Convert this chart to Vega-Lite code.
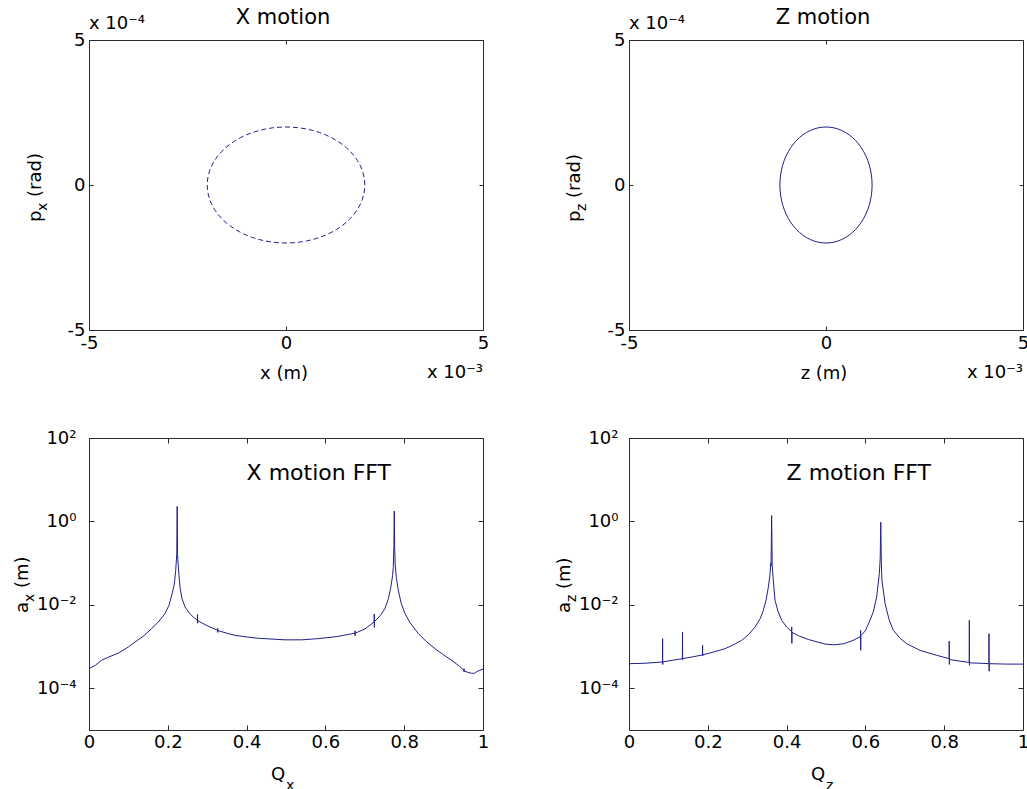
{
  "$schema": "https://vega.github.io/schema/vega-lite/v6.json",
  "autosize": {"type": "none"},
  "padding": {"left": 89, "top": 40, "right": 938, "bottom": 749},
  "background": "white",
  "datasets": {
    "xmotion": [
      {"i":0,"x":0.002,"p":0},{"i":1,"x":0.0019924,"p":0.0000174},{"i":2,"x":0.0019696,"p":0.0000347},{"i":3,"x":0.0019319,"p":0.0000518},
      {"i":4,"x":0.0018794,"p":0.0000684},{"i":5,"x":0.0018126,"p":0.0000845},{"i":6,"x":0.0017321,"p":0.0001},{"i":7,"x":0.0016383,"p":0.0001147},
      {"i":8,"x":0.0015321,"p":0.0001286},{"i":9,"x":0.0014142,"p":0.0001414},{"i":10,"x":0.0012856,"p":0.0001532},{"i":11,"x":0.0011472,"p":0.0001638},
      {"i":12,"x":0.001,"p":0.0001732},{"i":13,"x":0.0008452,"p":0.0001813},{"i":14,"x":0.000684,"p":0.0001879},{"i":15,"x":0.0005176,"p":0.0001932},
      {"i":16,"x":0.0003473,"p":0.000197},{"i":17,"x":0.0001743,"p":0.0001992},{"i":18,"x":0,"p":0.0002},
      {"i":19,"x":-0.0001743,"p":0.0001992},{"i":20,"x":-0.0003473,"p":0.000197},{"i":21,"x":-0.0005176,"p":0.0001932},{"i":22,"x":-0.000684,"p":0.0001879},
      {"i":23,"x":-0.0008452,"p":0.0001813},{"i":24,"x":-0.001,"p":0.0001732},{"i":25,"x":-0.0011472,"p":0.0001638},{"i":26,"x":-0.0012856,"p":0.0001532},
      {"i":27,"x":-0.0014142,"p":0.0001414},{"i":28,"x":-0.0015321,"p":0.0001286},{"i":29,"x":-0.0016383,"p":0.0001147},{"i":30,"x":-0.0017321,"p":0.0001},
      {"i":31,"x":-0.0018126,"p":0.0000845},{"i":32,"x":-0.0018794,"p":0.0000684},{"i":33,"x":-0.0019319,"p":0.0000518},{"i":34,"x":-0.0019696,"p":0.0000347},
      {"i":35,"x":-0.0019924,"p":0.0000174},{"i":36,"x":-0.002,"p":0},
      {"i":37,"x":-0.0019924,"p":-0.0000174},{"i":38,"x":-0.0019696,"p":-0.0000347},{"i":39,"x":-0.0019319,"p":-0.0000518},{"i":40,"x":-0.0018794,"p":-0.0000684},
      {"i":41,"x":-0.0018126,"p":-0.0000845},{"i":42,"x":-0.0017321,"p":-0.0001},{"i":43,"x":-0.0016383,"p":-0.0001147},{"i":44,"x":-0.0015321,"p":-0.0001286},
      {"i":45,"x":-0.0014142,"p":-0.0001414},{"i":46,"x":-0.0012856,"p":-0.0001532},{"i":47,"x":-0.0011472,"p":-0.0001638},{"i":48,"x":-0.001,"p":-0.0001732},
      {"i":49,"x":-0.0008452,"p":-0.0001813},{"i":50,"x":-0.000684,"p":-0.0001879},{"i":51,"x":-0.0005176,"p":-0.0001932},{"i":52,"x":-0.0003473,"p":-0.000197},
      {"i":53,"x":-0.0001743,"p":-0.0001992},{"i":54,"x":0,"p":-0.0002},
      {"i":55,"x":0.0001743,"p":-0.0001992},{"i":56,"x":0.0003473,"p":-0.000197},{"i":57,"x":0.0005176,"p":-0.0001932},{"i":58,"x":0.000684,"p":-0.0001879},
      {"i":59,"x":0.0008452,"p":-0.0001813},{"i":60,"x":0.001,"p":-0.0001732},{"i":61,"x":0.0011472,"p":-0.0001638},{"i":62,"x":0.0012856,"p":-0.0001532},
      {"i":63,"x":0.0014142,"p":-0.0001414},{"i":64,"x":0.0015321,"p":-0.0001286},{"i":65,"x":0.0016383,"p":-0.0001147},{"i":66,"x":0.0017321,"p":-0.0001},
      {"i":67,"x":0.0018126,"p":-0.0000845},{"i":68,"x":0.0018794,"p":-0.0000684},{"i":69,"x":0.0019319,"p":-0.0000518},{"i":70,"x":0.0019696,"p":-0.0000347},
      {"i":71,"x":0.0019924,"p":-0.0000174},{"i":72,"x":0.002,"p":0}
    ],
    "zmotion": [
      {"i":0,"z":0.00117,"p":0},{"i":1,"z":0.0011655,"p":0.0000174},{"i":2,"z":0.0011522,"p":0.0000347},{"i":3,"z":0.0011301,"p":0.0000518},
      {"i":4,"z":0.0010994,"p":0.0000684},{"i":5,"z":0.0010604,"p":0.0000845},{"i":6,"z":0.0010133,"p":0.0001},{"i":7,"z":0.0009584,"p":0.0001147},
      {"i":8,"z":0.0008963,"p":0.0001286},{"i":9,"z":0.0008273,"p":0.0001414},{"i":10,"z":0.0007521,"p":0.0001532},{"i":11,"z":0.0006711,"p":0.0001638},
      {"i":12,"z":0.000585,"p":0.0001732},{"i":13,"z":0.0004945,"p":0.0001813},{"i":14,"z":0.0004002,"p":0.0001879},{"i":15,"z":0.0003028,"p":0.0001932},
      {"i":16,"z":0.0002032,"p":0.000197},{"i":17,"z":0.000102,"p":0.0001992},{"i":18,"z":0,"p":0.0002},
      {"i":19,"z":-0.000102,"p":0.0001992},{"i":20,"z":-0.0002032,"p":0.000197},{"i":21,"z":-0.0003028,"p":0.0001932},{"i":22,"z":-0.0004002,"p":0.0001879},
      {"i":23,"z":-0.0004945,"p":0.0001813},{"i":24,"z":-0.000585,"p":0.0001732},{"i":25,"z":-0.0006711,"p":0.0001638},{"i":26,"z":-0.0007521,"p":0.0001532},
      {"i":27,"z":-0.0008273,"p":0.0001414},{"i":28,"z":-0.0008963,"p":0.0001286},{"i":29,"z":-0.0009584,"p":0.0001147},{"i":30,"z":-0.0010133,"p":0.0001},
      {"i":31,"z":-0.0010604,"p":0.0000845},{"i":32,"z":-0.0010994,"p":0.0000684},{"i":33,"z":-0.0011301,"p":0.0000518},{"i":34,"z":-0.0011522,"p":0.0000347},
      {"i":35,"z":-0.0011655,"p":0.0000174},{"i":36,"z":-0.00117,"p":0},
      {"i":37,"z":-0.0011655,"p":-0.0000174},{"i":38,"z":-0.0011522,"p":-0.0000347},{"i":39,"z":-0.0011301,"p":-0.0000518},{"i":40,"z":-0.0010994,"p":-0.0000684},
      {"i":41,"z":-0.0010604,"p":-0.0000845},{"i":42,"z":-0.0010133,"p":-0.0001},{"i":43,"z":-0.0009584,"p":-0.0001147},{"i":44,"z":-0.0008963,"p":-0.0001286},
      {"i":45,"z":-0.0008273,"p":-0.0001414},{"i":46,"z":-0.0007521,"p":-0.0001532},{"i":47,"z":-0.0006711,"p":-0.0001638},{"i":48,"z":-0.000585,"p":-0.0001732},
      {"i":49,"z":-0.0004945,"p":-0.0001813},{"i":50,"z":-0.0004002,"p":-0.0001879},{"i":51,"z":-0.0003028,"p":-0.0001932},{"i":52,"z":-0.0002032,"p":-0.000197},
      {"i":53,"z":-0.000102,"p":-0.0001992},{"i":54,"z":0,"p":-0.0002},
      {"i":55,"z":0.000102,"p":-0.0001992},{"i":56,"z":0.0002032,"p":-0.000197},{"i":57,"z":0.0003028,"p":-0.0001932},{"i":58,"z":0.0004002,"p":-0.0001879},
      {"i":59,"z":0.0004945,"p":-0.0001813},{"i":60,"z":0.000585,"p":-0.0001732},{"i":61,"z":0.0006711,"p":-0.0001638},{"i":62,"z":0.0007521,"p":-0.0001532},
      {"i":63,"z":0.0008273,"p":-0.0001414},{"i":64,"z":0.0008963,"p":-0.0001286},{"i":65,"z":0.0009584,"p":-0.0001147},{"i":66,"z":0.0010133,"p":-0.0001},
      {"i":67,"z":0.0010604,"p":-0.0000845},{"i":68,"z":0.0010994,"p":-0.0000684},{"i":69,"z":0.0011301,"p":-0.0000518},{"i":70,"z":0.0011522,"p":-0.0000347},
      {"i":71,"z":0.0011655,"p":-0.0000174},{"i":72,"z":0.00117,"p":0}
    ],
    "xfft": [
      {"Q":0,"a":2.95e-4},{"Q":0.016,"a":3.55e-4},{"Q":0.032,"a":4.68e-4},{"Q":0.05,"a":5.62e-4},{"Q":0.074,"a":6.92e-4},
      {"Q":0.1,"a":9.77e-4},{"Q":0.117,"a":1.29e-3},{"Q":0.138,"a":1.78e-3},{"Q":0.159,"a":2.69e-3},{"Q":0.176,"a":3.89e-3},
      {"Q":0.193,"a":6.17e-3},{"Q":0.203,"a":9.77e-3},{"Q":0.211,"a":1.86e-2},{"Q":0.2166,"a":3.16e-2},{"Q":0.22,"a":6.61e-2},
      {"Q":0.2228,"a":0.166},{"Q":0.2238,"a":2.29},{"Q":0.2248,"a":0.158},{"Q":0.2262,"a":0.1},{"Q":0.2285,"a":0.0501},
      {"Q":0.231,"a":0.0263},{"Q":0.236,"a":0.0141},{"Q":0.2437,"a":8.91e-3},{"Q":0.255,"a":6.31e-3},{"Q":0.2655,"a":5.01e-3},
      {"Q":0.275,"a":4.27e-3},{"Q":0.2753,"a":5.89e-3},{"Q":0.2757,"a":3.63e-3},{"Q":0.276,"a":4.17e-3},
      {"Q":0.3,"a":3.16e-3},{"Q":0.3263,"a":2.45e-3},{"Q":0.3265,"a":2.75e-3},{"Q":0.3268,"a":2.19e-3},{"Q":0.327,"a":2.42e-3},
      {"Q":0.35,"a":2.09e-3},{"Q":0.3706,"a":1.86e-3},{"Q":0.4,"a":1.7e-3},{"Q":0.43,"a":1.58e-3},{"Q":0.4975,"a":1.45e-3},
      {"Q":0.54,"a":1.45e-3},{"Q":0.582,"a":1.55e-3},{"Q":0.63,"a":1.74e-3},
      {"Q":0.6748,"a":2.09e-3},{"Q":0.6751,"a":2.4e-3},{"Q":0.6754,"a":1.82e-3},{"Q":0.6757,"a":2.1e-3},
      {"Q":0.7,"a":2.63e-3},{"Q":0.7237,"a":3.89e-3},{"Q":0.724,"a":6.03e-3},{"Q":0.7243,"a":2.88e-3},{"Q":0.7246,"a":3.98e-3},
      {"Q":0.74,"a":5.62e-3},{"Q":0.751,"a":8.13e-3},{"Q":0.76,"a":1.41e-2},{"Q":0.766,"a":2.63e-2},{"Q":0.7705,"a":5.01e-2},
      {"Q":0.7724,"a":7.94e-2},{"Q":0.7738,"a":0.263},{"Q":0.7748,"a":1.78},{"Q":0.7758,"a":0.251},{"Q":0.7772,"a":8.91e-2},
      {"Q":0.78,"a":4.47e-2},{"Q":0.785,"a":2.24e-2},{"Q":0.792,"a":1.12e-2},{"Q":0.802,"a":6.17e-3},{"Q":0.815,"a":3.72e-3},
      {"Q":0.836,"a":2.04e-3},{"Q":0.855,"a":1.35e-3},{"Q":0.878,"a":8.91e-4},{"Q":0.9,"a":6.31e-4},{"Q":0.9205,"a":4.68e-4},
      {"Q":0.94,"a":3.39e-4},{"Q":0.9515,"a":2.69e-4},{"Q":0.9518,"a":2.95e-4},{"Q":0.9521,"a":2.45e-4},{"Q":0.9524,"a":2.62e-4},
      {"Q":0.962,"a":2.4e-4},{"Q":0.971,"a":2.29e-4},{"Q":0.978,"a":2.29e-4},{"Q":0.984,"a":2.51e-4},{"Q":0.992,"a":2.69e-4},{"Q":1,"a":2.88e-4}
    ],
    "zfft": [
      {"Q":0,"a":3.89e-4},{"Q":0.04,"a":3.98e-4},
      {"Q":0.085,"a":4.27e-4},{"Q":0.0853,"a":1.55e-3},{"Q":0.0856,"a":3.72e-4},{"Q":0.0859,"a":4.3e-4},
      {"Q":0.11,"a":4.68e-4},
      {"Q":0.1355,"a":5.13e-4},{"Q":0.1358,"a":2.24e-3},{"Q":0.1361,"a":4.79e-4},{"Q":0.1364,"a":5.15e-4},
      {"Q":0.16,"a":5.62e-4},
      {"Q":0.1865,"a":6.31e-4},{"Q":0.1868,"a":1.07e-3},{"Q":0.1871,"a":6.03e-4},{"Q":0.1874,"a":6.35e-4},
      {"Q":0.215,"a":7.41e-4},{"Q":0.2437,"a":8.91e-4},{"Q":0.265,"a":1.1e-3},{"Q":0.286,"a":1.41e-3},{"Q":0.305,"a":2.0e-3},
      {"Q":0.32,"a":2.95e-3},{"Q":0.333,"a":4.68e-3},{"Q":0.341,"a":7.41e-3},{"Q":0.348,"a":1.32e-2},{"Q":0.3536,"a":2.63e-2},
      {"Q":0.3575,"a":5.01e-2},{"Q":0.36,"a":0.1},{"Q":0.3605,"a":0.085},{"Q":0.362,"a":1.38},{"Q":0.3635,"a":0.0871},
      {"Q":0.3645,"a":0.065},{"Q":0.3665,"a":0.0355},{"Q":0.3706,"a":0.0129},{"Q":0.378,"a":7.08e-3},{"Q":0.3875,"a":4.27e-3},
      {"Q":0.4,"a":2.95e-3},
      {"Q":0.4127,"a":2.29e-3},{"Q":0.413,"a":2.95e-3},{"Q":0.4133,"a":1.2e-3},{"Q":0.4136,"a":2.19e-3},
      {"Q":0.43,"a":1.82e-3},{"Q":0.455,"a":1.48e-3},{"Q":0.4975,"a":1.15e-3},{"Q":0.52,"a":1.1e-3},{"Q":0.545,"a":1.17e-3},
      {"Q":0.569,"a":1.41e-3},
      {"Q":0.5875,"a":1.74e-3},{"Q":0.5878,"a":2.45e-3},{"Q":0.5881,"a":8.13e-4},{"Q":0.5884,"a":1.82e-3},
      {"Q":0.6,"a":2.4e-3},{"Q":0.6117,"a":4.27e-3},{"Q":0.62,"a":6.76e-3},{"Q":0.6286,"a":1.55e-2},{"Q":0.6354,"a":5.62e-2},
      {"Q":0.6375,"a":0.126},{"Q":0.639,"a":0.955},{"Q":0.6405,"a":0.1},{"Q":0.642,"a":0.0389},{"Q":0.65,"a":0.0107},
      {"Q":0.66,"a":4.47e-3},{"Q":0.671,"a":2.45e-3},{"Q":0.688,"a":1.58e-3},{"Q":0.705,"a":1.17e-3},{"Q":0.7386,"a":8.13e-4},
      {"Q":0.781,"a":6.17e-4},
      {"Q":0.8125,"a":5.13e-4},{"Q":0.8128,"a":1.35e-3},{"Q":0.8131,"a":3.72e-4},{"Q":0.8134,"a":4.9e-4},
      {"Q":0.84,"a":4.47e-4},
      {"Q":0.8635,"a":4.17e-4},{"Q":0.8638,"a":4.27e-3},{"Q":0.8641,"a":3.55e-4},{"Q":0.8644,"a":4.07e-4},
      {"Q":0.891,"a":3.98e-4},
      {"Q":0.9134,"a":3.89e-4},{"Q":0.9137,"a":2.04e-3},{"Q":0.914,"a":2.57e-4},{"Q":0.9143,"a":3.89e-4},
      {"Q":0.9586,"a":3.8e-4},{"Q":1,"a":3.8e-4}
    ]
  },
  "columns": 2,
  "bounds": "flush",
  "spacing": {"row": 108, "column": 146},
  "concat": [
    {
      "width": 394, "height": 290,
      "resolve": {"axis": {"x": "independent", "y": "independent"}},
      "layer": [
        {
          "data": {"name": "xmotion"},
          "mark": {"type": "line", "stroke": "#20208c", "strokeWidth": 1, "strokeDash": [5, 3]},
          "encoding": {
            "x": {"field": "x", "type": "quantitative", "scale": {"domain": [-0.005, 0.005], "nice": false, "zero": false},
                  "axis": {"orient": "bottom", "values": [-0.005, 0, 0.005], "labelExpr": "'' + round(datum.value * 1000)", "title": null}},
            "y": {"field": "p", "type": "quantitative", "scale": {"domain": [-0.0005, 0.0005], "nice": false, "zero": false},
                  "axis": {"orient": "left", "values": [-0.0005, 0, 0.0005], "labelExpr": "'' + round(datum.value * 10000)", "title": null}},
            "order": {"field": "i", "type": "quantitative"}
          }
        },
        {
          "data": {"values": [{}]},
          "mark": {"type": "text", "text": "x 10⁻⁴", "align": "left", "baseline": "alphabetic", "dy": -11, "fontSize": 18},
          "encoding": {
            "x": {"datum": -0.005, "type": "quantitative", "axis": {"orient": "top", "values": [-0.005, 0, 0.005], "labels": false, "title": null}},
            "y": {"datum": 0.0005, "type": "quantitative", "axis": {"orient": "right", "values": [-0.0005, 0, 0.0005], "labels": false, "title": null}}
          }
        },
        {
          "data": {"values": [{}]},
          "mark": {"type": "text", "text": "X motion", "align": "center", "baseline": "alphabetic", "dx": -3, "dy": -16, "fontSize": 21},
          "encoding": {"x": {"datum": 0, "type": "quantitative", "axis": null}, "y": {"datum": 0.0005, "type": "quantitative", "axis": null}}
        },
        {
          "data": {"values": [{}]},
          "mark": {"type": "text", "text": "x 10⁻³", "align": "right", "baseline": "alphabetic", "dy": 48, "fontSize": 18},
          "encoding": {"x": {"datum": 0.005, "type": "quantitative", "axis": null}, "y": {"datum": -0.0005, "type": "quantitative", "axis": null}}
        },
        {
          "data": {"values": [{}]},
          "mark": {"type": "text", "text": "x (m)", "align": "center", "baseline": "alphabetic", "dx": -2, "dy": 49, "fontSize": 18},
          "encoding": {"x": {"datum": 0, "type": "quantitative", "axis": null}, "y": {"datum": -0.0005, "type": "quantitative", "axis": null}}
        },
        {
          "data": {"values": [{}]},
          "mark": {"type": "text", "text": "p", "angle": 270, "align": "left", "baseline": "alphabetic", "dx": -37, "dy": -48, "fontSize": 18},
          "encoding": {"x": {"datum": -0.005, "type": "quantitative", "axis": null}, "y": {"datum": 0, "type": "quantitative", "axis": null}}
        },
        {
          "data": {"values": [{}]},
          "mark": {"type": "text", "text": "x", "angle": 270, "align": "left", "baseline": "alphabetic", "dx": -26, "dy": -42, "fontSize": 14},
          "encoding": {"x": {"datum": -0.005, "type": "quantitative", "axis": null}, "y": {"datum": 0, "type": "quantitative", "axis": null}}
        },
        {
          "data": {"values": [{}]},
          "mark": {"type": "text", "text": "(rad)", "angle": 270, "align": "left", "baseline": "alphabetic", "dx": -12, "dy": -48, "fontSize": 18},
          "encoding": {"x": {"datum": -0.005, "type": "quantitative", "axis": null}, "y": {"datum": 0, "type": "quantitative", "axis": null}}
        }
      ]
    },
    {
      "width": 394, "height": 290,
      "resolve": {"axis": {"x": "independent", "y": "independent"}},
      "layer": [
        {
          "data": {"name": "zmotion"},
          "mark": {"type": "line", "stroke": "#20208c", "strokeWidth": 1},
          "encoding": {
            "x": {"field": "z", "type": "quantitative", "scale": {"domain": [-0.005, 0.005], "nice": false, "zero": false},
                  "axis": {"orient": "bottom", "values": [-0.005, 0, 0.005], "labelExpr": "'' + round(datum.value * 1000)", "title": null}},
            "y": {"field": "p", "type": "quantitative", "scale": {"domain": [-0.0005, 0.0005], "nice": false, "zero": false},
                  "axis": {"orient": "left", "values": [-0.0005, 0, 0.0005], "labelExpr": "'' + round(datum.value * 10000)", "title": null}},
            "order": {"field": "i", "type": "quantitative"}
          }
        },
        {
          "data": {"values": [{}]},
          "mark": {"type": "text", "text": "x 10⁻⁴", "align": "left", "baseline": "alphabetic", "dy": -11, "fontSize": 18},
          "encoding": {
            "x": {"datum": -0.005, "type": "quantitative", "axis": {"orient": "top", "values": [-0.005, 0, 0.005], "labels": false, "title": null}},
            "y": {"datum": 0.0005, "type": "quantitative", "axis": {"orient": "right", "values": [-0.0005, 0, 0.0005], "labels": false, "title": null}}
          }
        },
        {
          "data": {"values": [{}]},
          "mark": {"type": "text", "text": "Z motion", "align": "center", "baseline": "alphabetic", "dx": -3, "dy": -16, "fontSize": 21},
          "encoding": {"x": {"datum": 0, "type": "quantitative", "axis": null}, "y": {"datum": 0.0005, "type": "quantitative", "axis": null}}
        },
        {
          "data": {"values": [{}]},
          "mark": {"type": "text", "text": "x 10⁻³", "align": "right", "baseline": "alphabetic", "dy": 48, "fontSize": 18},
          "encoding": {"x": {"datum": 0.005, "type": "quantitative", "axis": null}, "y": {"datum": -0.0005, "type": "quantitative", "axis": null}}
        },
        {
          "data": {"values": [{}]},
          "mark": {"type": "text", "text": "z (m)", "align": "center", "baseline": "alphabetic", "dx": -2, "dy": 49, "fontSize": 18},
          "encoding": {"x": {"datum": 0, "type": "quantitative", "axis": null}, "y": {"datum": -0.0005, "type": "quantitative", "axis": null}}
        },
        {
          "data": {"values": [{}]},
          "mark": {"type": "text", "text": "p", "angle": 270, "align": "left", "baseline": "alphabetic", "dx": -37, "dy": -49, "fontSize": 18},
          "encoding": {"x": {"datum": -0.005, "type": "quantitative", "axis": null}, "y": {"datum": 0, "type": "quantitative", "axis": null}}
        },
        {
          "data": {"values": [{}]},
          "mark": {"type": "text", "text": "z", "angle": 270, "align": "left", "baseline": "alphabetic", "dx": -26, "dy": -43, "fontSize": 14},
          "encoding": {"x": {"datum": -0.005, "type": "quantitative", "axis": null}, "y": {"datum": 0, "type": "quantitative", "axis": null}}
        },
        {
          "data": {"values": [{}]},
          "mark": {"type": "text", "text": "(rad)", "angle": 270, "align": "left", "baseline": "alphabetic", "dx": -13, "dy": -49, "fontSize": 18},
          "encoding": {"x": {"datum": -0.005, "type": "quantitative", "axis": null}, "y": {"datum": 0, "type": "quantitative", "axis": null}}
        }
      ]
    },
    {
      "width": 394, "height": 292,
      "resolve": {"axis": {"x": "independent", "y": "independent"}},
      "layer": [
        {
          "data": {"name": "xfft"},
          "mark": {"type": "line", "stroke": "#20208c", "strokeWidth": 1},
          "encoding": {
            "x": {"field": "Q", "type": "quantitative", "scale": {"domain": [0, 1], "nice": false, "zero": false},
                  "axis": {"orient": "bottom", "values": [0, 0.2, 0.4, 0.6, 0.8, 1], "labelExpr": "'' + datum.value", "title": null, "tickSize": -5}},
            "y": {"field": "a", "type": "quantitative", "scale": {"type": "log", "domain": [0.00001, 100], "nice": false},
                  "axis": {"orient": "left", "values": [0.0001, 0.01, 1, 100], "labelExpr": "datum.value > 10 ? '10²' : datum.value > 0.1 ? '10⁰' : datum.value > 0.001 ? '10⁻²' : '10⁻⁴'", "title": null, "tickSize": -5, "labelPadding": 18}}
          }
        },
        {
          "data": {"values": [{}]},
          "mark": {"type": "text", "text": "X motion FFT", "align": "left", "baseline": "alphabetic", "fontSize": 22},
          "encoding": {
            "x": {"datum": 0.4, "type": "quantitative", "axis": {"orient": "top", "values": [0, 0.2, 0.4, 0.6, 0.8, 1], "labels": false, "title": null, "tickSize": -5}},
            "y": {"datum": 10, "type": "quantitative", "axis": {"orient": "right", "values": [0.0001, 0.01, 1, 100], "labels": false, "title": null, "tickSize": -5}}
          }
        },
        {
          "data": {"values": [{}]},
          "mark": {"type": "text", "text": "Q", "align": "left", "baseline": "alphabetic", "dx": -15, "dy": 50, "fontSize": 18},
          "encoding": {"x": {"datum": 0.5, "type": "quantitative", "axis": null}, "y": {"datum": 0.00001, "type": "quantitative", "axis": null}}
        },
        {
          "data": {"values": [{}]},
          "mark": {"type": "text", "text": "x", "align": "left", "baseline": "alphabetic", "dx": 0, "dy": 60, "fontSize": 14},
          "encoding": {"x": {"datum": 0.5, "type": "quantitative", "axis": null}, "y": {"datum": 0.00001, "type": "quantitative", "axis": null}}
        },
        {
          "data": {"values": [{}]},
          "mark": {"type": "text", "text": "a", "angle": 270, "align": "left", "baseline": "alphabetic", "dx": -29, "dy": -61, "fontSize": 18},
          "encoding": {"x": {"datum": 0, "type": "quantitative", "axis": null}, "y": {"datum": 0.0316228, "type": "quantitative", "axis": null}}
        },
        {
          "data": {"values": [{}]},
          "mark": {"type": "text", "text": "x", "angle": 270, "align": "left", "baseline": "alphabetic", "dx": -18, "dy": -55, "fontSize": 14},
          "encoding": {"x": {"datum": 0, "type": "quantitative", "axis": null}, "y": {"datum": 0.0316228, "type": "quantitative", "axis": null}}
        },
        {
          "data": {"values": [{}]},
          "mark": {"type": "text", "text": "(m)", "angle": 270, "align": "left", "baseline": "alphabetic", "dx": -4, "dy": -61, "fontSize": 18},
          "encoding": {"x": {"datum": 0, "type": "quantitative", "axis": null}, "y": {"datum": 0.0316228, "type": "quantitative", "axis": null}}
        }
      ]
    },
    {
      "width": 394, "height": 292,
      "resolve": {"axis": {"x": "independent", "y": "independent"}},
      "layer": [
        {
          "data": {"name": "zfft"},
          "mark": {"type": "line", "stroke": "#20208c", "strokeWidth": 1},
          "encoding": {
            "x": {"field": "Q", "type": "quantitative", "scale": {"domain": [0, 1], "nice": false, "zero": false},
                  "axis": {"orient": "bottom", "values": [0, 0.2, 0.4, 0.6, 0.8, 1], "labelExpr": "'' + datum.value", "title": null, "tickSize": -5}},
            "y": {"field": "a", "type": "quantitative", "scale": {"type": "log", "domain": [0.00001, 100], "nice": false},
                  "axis": {"orient": "left", "values": [0.0001, 0.01, 1, 100], "labelExpr": "datum.value > 10 ? '10²' : datum.value > 0.1 ? '10⁰' : datum.value > 0.001 ? '10⁻²' : '10⁻⁴'", "title": null, "tickSize": -5, "labelPadding": 16}}
          }
        },
        {
          "data": {"values": [{}]},
          "mark": {"type": "text", "text": "Z motion FFT", "align": "left", "baseline": "alphabetic", "fontSize": 22},
          "encoding": {
            "x": {"datum": 0.4, "type": "quantitative", "axis": {"orient": "top", "values": [0, 0.2, 0.4, 0.6, 0.8, 1], "labels": false, "title": null, "tickSize": -5}},
            "y": {"datum": 10, "type": "quantitative", "axis": {"orient": "right", "values": [0.0001, 0.01, 1, 100], "labels": false, "title": null, "tickSize": -5}}
          }
        },
        {
          "data": {"values": [{}]},
          "mark": {"type": "text", "text": "Q", "align": "left", "baseline": "alphabetic", "dx": -15, "dy": 50, "fontSize": 18},
          "encoding": {"x": {"datum": 0.5, "type": "quantitative", "axis": null}, "y": {"datum": 0.00001, "type": "quantitative", "axis": null}}
        },
        {
          "data": {"values": [{}]},
          "mark": {"type": "text", "text": "z", "align": "left", "baseline": "alphabetic", "dx": 0, "dy": 60, "fontSize": 14},
          "encoding": {"x": {"datum": 0.5, "type": "quantitative", "axis": null}, "y": {"datum": 0.00001, "type": "quantitative", "axis": null}}
        },
        {
          "data": {"values": [{}]},
          "mark": {"type": "text", "text": "a", "angle": 270, "align": "left", "baseline": "alphabetic", "dx": -29, "dy": -59, "fontSize": 18},
          "encoding": {"x": {"datum": 0, "type": "quantitative", "axis": null}, "y": {"datum": 0.0316228, "type": "quantitative", "axis": null}}
        },
        {
          "data": {"values": [{}]},
          "mark": {"type": "text", "text": "z", "angle": 270, "align": "left", "baseline": "alphabetic", "dx": -18, "dy": -53, "fontSize": 14},
          "encoding": {"x": {"datum": 0, "type": "quantitative", "axis": null}, "y": {"datum": 0.0316228, "type": "quantitative", "axis": null}}
        },
        {
          "data": {"values": [{}]},
          "mark": {"type": "text", "text": "(m)", "angle": 270, "align": "left", "baseline": "alphabetic", "dx": -5, "dy": -59, "fontSize": 18},
          "encoding": {"x": {"datum": 0, "type": "quantitative", "axis": null}, "y": {"datum": 0.0316228, "type": "quantitative", "axis": null}}
        }
      ]
    }
  ],
  "config": {
    "view": {"stroke": "#2b2b2b", "strokeWidth": 1},
    "axis": {
      "domain": false, "grid": false,
      "tickColor": "#2b2b2b", "tickSize": -4, "tickWidth": 1,
      "labelFont": "DejaVu Sans", "labelFontSize": 18, "labelColor": "#000",
      "labelPadding": 8, "labelFlush": false, "labelOverlap": false
    },
    "text": {"font": "DejaVu Sans", "color": "#000"}
  }
}
